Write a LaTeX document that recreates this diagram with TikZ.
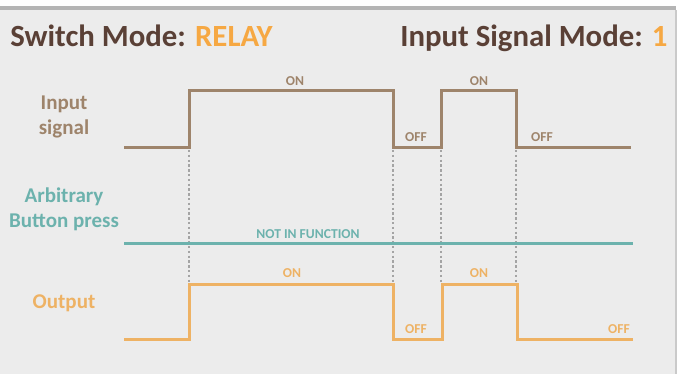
\documentclass[tikz,border=0pt]{standalone}
\usepackage{fontspec}
\setmainfont{Carlito}
\usetikzlibrary{positioning}

\definecolor{titlebrown}{HTML}{5A4036}
\definecolor{sigbrown}{HTML}{9E846B}
\definecolor{btnteal}{HTML}{6CB2AD}
\definecolor{outorange}{HTML}{EEB264}
\definecolor{modeorange}{HTML}{F6A843}
\definecolor{panelgray}{HTML}{ECECEC}
\definecolor{bargray}{HTML}{B4B4B4}
\definecolor{guidegray}{HTML}{A4A4A4}

\begin{document}
\begin{tikzpicture}[
    x=0.5pt, y=-0.5pt,
    title/.style={font=\bfseries\fontsize{15.4}{17}\selectfont, inner sep=0pt},
    rowlabel/.style={font=\bfseries\fontsize{10.5}{12.5}\selectfont, align=center, inner sep=0pt},
    state/.style={font=\bfseries\fontsize{6.8}{7.8}\selectfont, inner sep=0pt},
    wave/.style={line width=1.5pt, line join=miter},
    guide/.style={guidegray, line width=0.8pt, dash pattern=on 1.2pt off 1.2pt},
]

% === Frame ===
\useasboundingbox (0,0) rectangle (680,374);
\fill[white] (0,0) rectangle (680,374);
\fill[panelgray] (0,10) rectangle (676,374);
\fill[bargray] (0,6) rectangle (676,10);
\draw[bargray!70, line width=0.8pt] (676,10) -- (676,374);

% === Header ===
\node[title, anchor=base west, text=titlebrown] (swmode) at (10,47)
     {Switch Mode: \textcolor{modeorange}{RELAY}};
\node[title, anchor=base east, text=titlebrown] (inmode) at (668,47)
     {Input Signal Mode: \textcolor{modeorange}{1}};

% === Row labels ===
\node[rowlabel, text=sigbrown] (lblin) at (64,117) {Input\\signal};
\node[rowlabel, text=btnteal] (lblbtn) at (64,209) {Arbitrary\\Button press};
\node[rowlabel, text=outorange] (lblout) at (64,303) {Output};

% === Guide lines at the edges ===
\foreach \t in {189,393,441,516}
  \draw[guide] (\t,150) -- (\t,283);

% === Input signal ===
\draw[wave, sigbrown] (124,148) -- (189,148) -- (189,91) -- (393,91) -- (393,148)
     -- (441,148) -- (441,91) -- (516,91) -- (516,148) -- (631,148);
\node[state, text=sigbrown] (inon1) at (295,81) {ON};
\node[state, text=sigbrown] (inoff1) at (416,137) {OFF};
\node[state, text=sigbrown] (inon2) at (479,81) {ON};
\node[state, text=sigbrown] (inoff2) at (542,137) {OFF};

% === Button press ===
\draw[wave, btnteal] (124,243) -- (633,243);
\node[state, text=btnteal] (nif) at (308,234) {NOT IN FUNCTION};

% === Output ===
\draw[wave, outorange] (124,339) -- (189,339) -- (189,284) -- (393,284) -- (393,339)
     -- (442,339) -- (442,284) -- (517,284) -- (517,339) -- (633,339);
\node[state, text=outorange] (outon1) at (292,273) {ON};
\node[state, text=outorange] (outoff1) at (416,329) {OFF};
\node[state, text=outorange] (outon2) at (479,273) {ON};
\node[state, text=outorange] (outoff2) at (619,329) {OFF};

\end{tikzpicture}
\end{document}
